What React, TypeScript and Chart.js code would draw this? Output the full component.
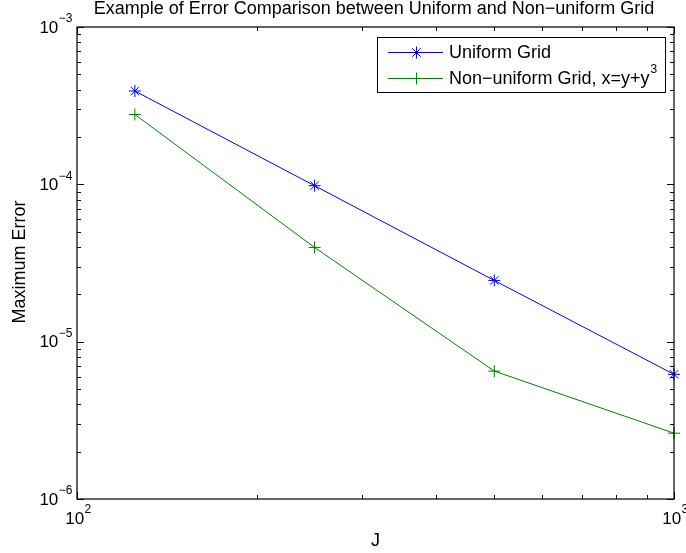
import React, { useEffect, useRef } from "react";
import { Chart, registerables } from "chart.js";

Chart.register(...registerables);

const gridSizes = [125, 250, 500, 1000];
const uniformErr = [3.92e-4, 9.8e-5, 2.45e-5, 6.2e-6];
const nonUniformErr = [2.78e-4, 3.97e-5, 6.5e-6, 2.62e-6];
const xTickExps = [2, 3];
const yTickExps = [-3, -4, -5, -6];
const seriesNames = ["Uniform Grid", "Non\u2212uniform Grid, x=y+y"];
const titleText = "Example of Error Comparison between Uniform and Non\u2212uniform Grid";
const xLabel = "J";
const yLabel = "Maximum Error";

const FONT = "'Liberation Sans', Arial, Helvetica, sans-serif";

function drawMarker(ctx: CanvasRenderingContext2D, style: string, x: number, y: number, r: number, color: string) {
  ctx.save();
  ctx.strokeStyle = color;
  ctx.lineWidth = 1;
  ctx.beginPath();
  ctx.moveTo(x - r, y);
  ctx.lineTo(x + r, y);
  ctx.moveTo(x, y - r);
  ctx.lineTo(x, y + r);
  if (style === "star") {
    const d = r * Math.SQRT1_2;
    ctx.moveTo(x - d, y - d);
    ctx.lineTo(x + d, y + d);
    ctx.moveTo(x - d, y + d);
    ctx.lineTo(x + d, y - d);
  }
  ctx.stroke();
  ctx.restore();
}

const overlay = {
  id: "matlabOverlay",
  afterDraw(chart: any) {
    const ctx = chart.ctx as CanvasRenderingContext2D;
    const a = chart.chartArea;
    const xs = chart.scales.x;
    const ys = chart.scales.y;
    ctx.save();
    // box
    ctx.strokeStyle = "#000";
    ctx.lineWidth = 1.2;
    ctx.strokeRect(a.left, a.top, a.right - a.left, a.bottom - a.top);
    // ticks
    ctx.lineWidth = 1;
    ctx.beginPath();
    for (let e = 2; e < 3; e++) {
      for (let m = 1; m <= 10; m++) {
        const v = m * Math.pow(10, e);
        const px = Math.round(xs.getPixelForValue(v)) + 0.5;
        const len = m === 1 || m === 10 ? 7 : 4;
        ctx.moveTo(px, a.bottom);
        ctx.lineTo(px, a.bottom - len);
        ctx.moveTo(px, a.top);
        ctx.lineTo(px, a.top + len);
      }
    }
    for (let e = -6; e < -3; e++) {
      for (let m = 1; m <= 10; m++) {
        const v = m * Math.pow(10, e);
        const py = Math.round(ys.getPixelForValue(v)) + 0.5;
        const len = m === 1 || m === 10 ? 7 : 4;
        ctx.moveTo(a.left, py);
        ctx.lineTo(a.left + len, py);
        ctx.moveTo(a.right, py);
        ctx.lineTo(a.right - len, py);
      }
    }
    ctx.stroke();

    // tick labels
    ctx.fillStyle = "#000";
    const base = `17px ${FONT}`;
    const sup = `12px ${FONT}`;
    const drawPow = (x: number, y: number, exp: number, align: "right" | "center") => {
      const expStr = exp < 0 ? "\u2212" + Math.abs(exp) : String(exp);
      ctx.font = base;
      const w1 = ctx.measureText("10").width;
      ctx.font = sup;
      const w2 = ctx.measureText(expStr).width;
      const x0 = align === "right" ? x - w1 - w2 : x - (w1 + w2) / 2;
      ctx.textAlign = "left";
      ctx.textBaseline = "middle";
      ctx.font = base;
      ctx.fillText("10", x0, y);
      ctx.font = sup;
      ctx.fillText(expStr, x0 + w1 + 0.5, y - 9);
    };
    yTickExps.forEach((e) => {
      drawPow(a.left - 5, ys.getPixelForValue(Math.pow(10, e)) + 1, e, "right");
    });
    xTickExps.forEach((e) => {
      drawPow(xs.getPixelForValue(Math.pow(10, e)) + 1, a.bottom + 20, e, "center");
    });

    // axis labels
    ctx.font = `18px ${FONT}`;
    ctx.textAlign = "center";
    ctx.textBaseline = "middle";
    ctx.fillText(xLabel, (a.left + a.right) / 2, 541);
    ctx.save();
    ctx.translate(20, 262);
    ctx.rotate(-Math.PI / 2);
    ctx.fillText(yLabel, 0, 0);
    ctx.restore();

    // title
    ctx.font = `18px ${FONT}`;
    ctx.textBaseline = "alphabetic";
    ctx.fillText(titleText, 374, 14);

    // legend
    const lx = 377, ly = 37, lw = 288, lh = 55;
    ctx.fillStyle = "#fff";
    ctx.fillRect(lx, ly, lw, lh);
    ctx.strokeStyle = "#000";
    ctx.lineWidth = 1;
    ctx.strokeRect(lx + 0.5, ly + 0.5, lw, lh);
    const rows = [52, 78];
    chart.data.datasets.forEach((ds: any, i: number) => {
      const y = rows[i];
      ctx.strokeStyle = ds.borderColor;
      ctx.lineWidth = 1;
      ctx.beginPath();
      ctx.moveTo(388, y + 0.5);
      ctx.lineTo(443, y + 0.5);
      ctx.stroke();
      drawMarker(ctx, ds.pointStyle, 416.5, y + 0.5, ds.pointRadius, ds.borderColor);
      ctx.fillStyle = "#000";
      ctx.font = `18px ${FONT}`;
      ctx.textAlign = "left";
      ctx.textBaseline = "middle";
      ctx.fillText(seriesNames[i], 449, y + 1);
      if (i === 1) {
        const w = ctx.measureText(seriesNames[i]).width;
        ctx.font = `12px ${FONT}`;
        ctx.fillText("3", 449 + w + 1, y - 8);
      }
    });
    ctx.restore();
  },
};

export default function App() {
  const ref = useRef<HTMLCanvasElement>(null);
  useEffect(() => {
    if (!ref.current) return;
    const chart = new Chart(ref.current, {
      type: "line",
      data: {
        datasets: [
          {
            label: seriesNames[0],
            data: gridSizes.map((x, i) => ({ x, y: uniformErr[i] })),
            borderColor: "#0000ff",
            backgroundColor: "#0000ff",
            pointBorderColor: "#0000ff",
            borderWidth: 1,
            pointStyle: "star",
            pointRadius: 6,
            pointBorderWidth: 1,
          },
          {
            label: seriesNames[1],
            data: gridSizes.map((x, i) => ({ x, y: nonUniformErr[i] })),
            borderColor: "#008000",
            backgroundColor: "#008000",
            pointBorderColor: "#008000",
            borderWidth: 1,
            pointStyle: "cross",
            pointRadius: 6,
            pointBorderWidth: 1,
          },
        ],
      },
      options: {
        animation: false,
        responsive: false,
        clip: false as any,
        layout: { padding: { left: 77, right: 12, top: 27, bottom: 54 } },
        plugins: { legend: { display: false }, tooltip: { enabled: false }, title: { display: false } },
        scales: {
          x: { type: "logarithmic", min: 100, max: 1000, display: false },
          y: { type: "logarithmic", min: 1e-6, max: 1e-3, display: false },
        },
      },
      plugins: [overlay],
    });
    return () => chart.destroy();
  }, []);
  return (
    <div style={{ position: "fixed", left: 0, top: 0, width: 686, height: 553, background: "#fff" }}>
      <canvas ref={ref} width={686} height={553} style={{ width: 686, height: 553 }} />
    </div>
  );
}
